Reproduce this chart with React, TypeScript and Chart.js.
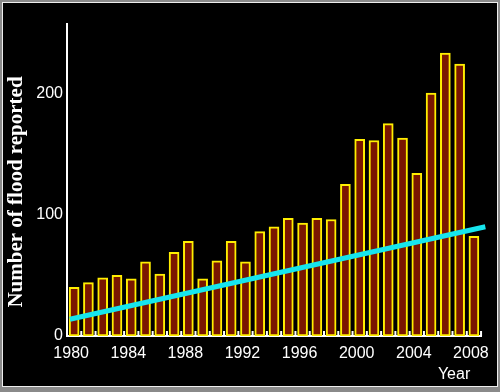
import React, { useEffect, useRef } from "react";
import { Chart, registerables } from "chart.js";

Chart.register(...registerables);

const years = [
  1980, 1981, 1982, 1983, 1984, 1985, 1986, 1987, 1988, 1989,
  1990, 1991, 1992, 1993, 1994, 1995, 1996, 1997, 1998, 1999,
  2000, 2001, 2002, 2003, 2004, 2005, 2006, 2007, 2008,
];
const floods = [
  40, 44, 48, 50, 47, 61, 51, 69, 78, 47,
  62, 78, 61, 86, 90, 97, 93, 97, 96, 125,
  162, 161, 175, 163, 134, 200, 233, 224, 82,
];
const trendYears = [1979.7, 2008.8];
const trendValues = [13.8, 90];
const xTickYears = [1980, 1984, 1988, 1992, 1996, 2000, 2004, 2008];
const yTicks = [0, 100, 200];

const innerTicks = {
  id: "innerTicks",
  afterDatasetsDraw(chart: any) {
    const x = chart.scales.x;
    const { ctx, chartArea } = chart;
    ctx.save();
    ctx.strokeStyle = "#ffffff";
    ctx.lineWidth = 2;
    years.forEach((yr) => {
      const px = x.getPixelForValue(yr + 0.5);
      ctx.beginPath();
      ctx.moveTo(px, chartArea.bottom);
      ctx.lineTo(px, chartArea.bottom - 5);
      ctx.stroke();
    });
    ctx.fillStyle = "#ffffff";
    ctx.font = '16px "Liberation Sans", Arial, sans-serif';
    ctx.textAlign = "center";
    ctx.textBaseline = "middle";
    ctx.fillText("Year", chartArea.right - 27, chartArea.bottom + 39);
    ctx.translate(17, (chartArea.top + chartArea.bottom) / 2 + 12);
    ctx.rotate(-Math.PI / 2);
    ctx.font = 'bold 21px "Liberation Serif", "Times New Roman", serif';
    ctx.fillText("Number of flood reported", 0, 0);
    ctx.restore();
  },
};

export default function App() {
  const ref = useRef<HTMLCanvasElement>(null);
  useEffect(() => {
    const chart = new Chart(ref.current as HTMLCanvasElement, {
      type: "bar",
      data: {
        datasets: [
          {
            type: "line",
            data: trendYears.map((x, i) => ({ x, y: trendValues[i] })),
            borderColor: "#16e6ee",
            borderWidth: 5,
            pointRadius: 0,
            clip: false,
            order: 0,
          } as any,
          {
            type: "bar",
            data: years.map((x, i) => ({ x, y: floods[i] })),
            backgroundColor: "#7a1600",
            borderColor: "#ffee00",
            borderWidth: 2,
            borderSkipped: false,
            barThickness: 10,
            order: 1,
          } as any,
        ],
      },
      options: {
        animation: false,
        responsive: false,
        maintainAspectRatio: false,
        layout: { padding: { left: 0, right: 17, top: 24, bottom: 0 } },
        plugins: { legend: { display: false }, tooltip: { enabled: false } },
        scales: {
          x: {
            type: "linear",
            offset: false,
            min: 1979.5,
            max: 2008.5,
            grid: { display: false, drawTicks: false, offset: false },
            border: { display: true, color: "#ffffff", width: 2 },
            afterBuildTicks: (s: any) => {
              s.ticks = xTickYears.map((v) => ({ value: v }));
            },
            afterFit: (s: any) => {
              s.height = 56;
            },
            ticks: {
              color: "#ffffff",
              font: { family: '"Liberation Sans", Arial, sans-serif', size: 16 },
              padding: 8,
              labelOffset: -3,
              maxRotation: 0,
              autoSkip: false,
              callback: (v: any) => String(v),
            },
          },
          y: {
            type: "linear",
            min: 0,
            max: 257,
            grid: { display: false, drawTicks: false },
            border: { display: true, color: "#ffffff", width: 2 },
            afterBuildTicks: (s: any) => {
              s.ticks = yTicks.map((v) => ({ value: v }));
            },
            afterFit: (s: any) => {
              s.width = 67;
            },
            ticks: {
              color: "#ffffff",
              font: { family: '"Liberation Sans", Arial, sans-serif', size: 16 },
              padding: 4,
            },
          },
        },
      },
      plugins: [innerTicks],
    });
    return () => chart.destroy();
  }, []);

  return (
    <div style={{ position: "fixed", left: 0, top: 0, width: 500, height: 392, background: "#8a8a8a" }}>
      <div
        style={{
          position: "absolute",
          left: 2,
          top: 2,
          width: 496,
          height: 385,
          boxSizing: "border-box",
          border: "1px solid #eeeeee",
          background: "#000000",
        }}
      />
      <canvas ref={ref} width={500} height={392} style={{ position: "absolute", left: 0, top: 0, width: 500, height: 392 }} />
    </div>
  );
}
